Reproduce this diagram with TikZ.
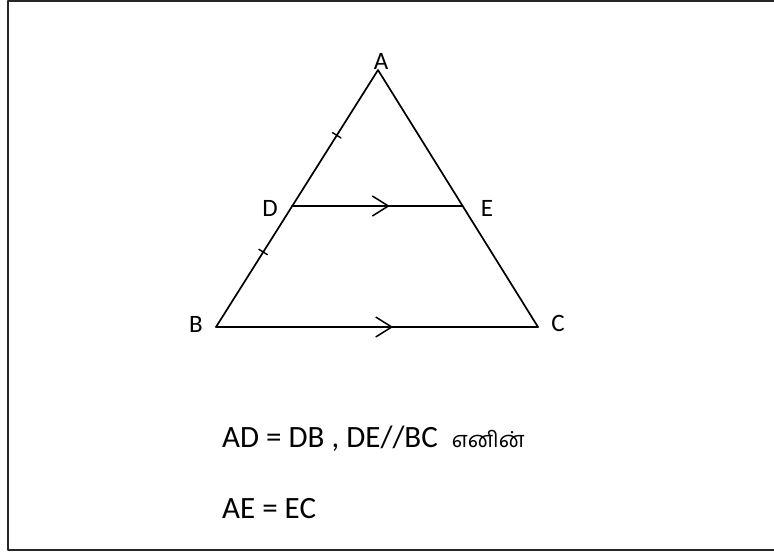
\documentclass[tikz,border=0pt]{standalone}
\usepackage{fontspec}
\setmainfont{Carlito}
\newfontfamily\tamilfont[Script=Tamil]{Hind Madurai}
\usetikzlibrary{calc,arrows.meta,decorations.markings}
\tikzset{
  every picture/.style={line cap=round,line join=round},
  side/.style={line width=1.7pt,draw=black},
  frameline/.style={line width=1.8pt,draw=black!85},
  vlab/.style={font=\fontsize{25}{25}\selectfont,inner sep=0pt},
  textlab/.style={font=\fontsize{31}{31}\selectfont,inner sep=0pt,anchor=base west},
  parmark/.style={postaction={decorate,decoration={markings,
    mark=at position #1 with {\arrow{Straight Barb[length=16pt,width=20pt,line width=1.5pt]}}}}},
  tickmark/.style={postaction={decorate,decoration={markings,
    mark=at position #1 with {\draw[line width=1.4pt] (0,-5pt)--(0,5pt);}}}}
}
\begin{document}
\begin{tikzpicture}[x=1pt,y=-1pt]
  \useasboundingbox (0,0) rectangle (774,553);
  \draw[frameline] (8,1) rectangle (790,550);

  % The triangle and its midpoint segment.
  \coordinate (A) at (378,70);
  \coordinate (B) at (216,327);
  \coordinate (C) at (538,327);
  \coordinate (D) at (292,206);
  \coordinate (E) at (462,206);
  \draw[side] (B)--(A)--(C);
  \draw[side,parmark=.55] (B)--(C);
  \draw[side,parmark=.575] (D)--(E);
  \path[tickmark=.38] (D)--(B);
  \path[tickmark=.52] (D)--(A);

  % Vertex labels.
  \node[vlab] (lA) at (381,61) {A};
  \node[vlab] (lB) at (196,324) {B};
  \node[vlab] (lC) at (558,323) {C};
  \node[vlab] (lD) at (270,208) {D};
  \node[vlab] (lE) at (487,208) {E};

  % The statement below the figure.
  \node[textlab] (hyp) at (222,447) {AD = DB , DE//BC\hspace{14pt}{\tamilfont\fontsize{22}{22}\selectfont எனின்}};
  \node[textlab] (res) at (222,518) {AE = EC};
\end{tikzpicture}
\end{document}
